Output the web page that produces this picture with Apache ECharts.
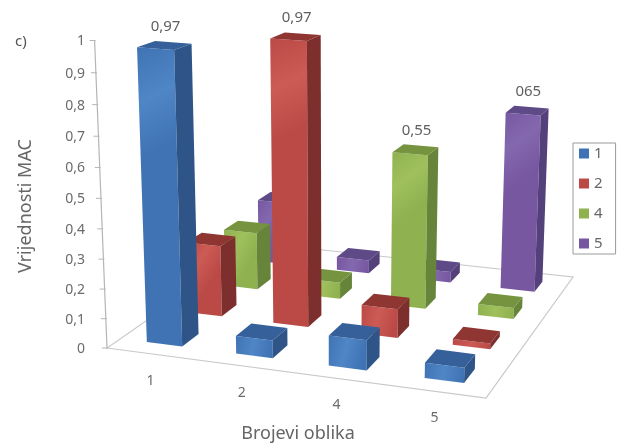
<!DOCTYPE html>
<html>
<head>
<meta charset="utf-8">
<style>html,body{margin:0;padding:0;background:#fff}#c{width:620px;height:443px}</style>
<script src="https://cdn.jsdelivr.net/npm/echarts@6/dist/echarts.min.js"></script>
</head>
<body>
<div id="c"></div>
<script>
// Bar heights, one array per series, ordered by shape number on the horizontal axis
const categories = ['1', '2', '4', '5'];
const seriesNames = ['1', '2', '4', '5'];
const values1 = [0.97, 0.06, 0.10, 0.05];
const values2 = [0.25, 0.97, 0.10, 0.02];
const values4 = [0.21, 0.06, 0.55, 0.04];
const values5 = [0.24, 0.05, 0.04, 0.65];
const valueLabels1 = ['0,97', '', '', ''];
const valueLabels2 = ['', '0,97', '', ''];
const valueLabels4 = ['', '', '0,55', ''];
const valueLabels5 = ['', '', '', '065'];
const yTicks = [0, 0.1, 0.2, 0.3, 0.4, 0.5, 0.6, 0.7, 0.8, 0.9, 1];

// Colours for the front, side and top faces of each series
const frontFaces = [['#3f73b4', '#4f86c6'], ['#bb4a46', '#cc5a55'], ['#8fb150', '#9fc05c'], ['#7657a0', '#8468ae']];
const sideFaces = ['#2f5588', '#7d2f2d', '#66843a', '#54407a'];
const topFaces = ['#35609a', '#8f3633', '#76943f', '#5e4a86'];

// Perspective camera: floor corners plus the vertical vanishing point
const floorQuad = [[107, 348], [486, 398], [573, 277], [258, 243]];
const axisTop = [95, 40.5];
const verticalVanish = [335, 6000];

function buildCamera() {
  const [[x0, y0], [x1, y1], [x2, y2], [x3, y3]] = floorQuad;
  const dx1 = x1 - x2, dx2 = x3 - x2, sx = x0 - x1 + x2 - x3;
  const dy1 = y1 - y2, dy2 = y3 - y2, sy = y0 - y1 + y2 - y3;
  const den = dx1 * dy2 - dx2 * dy1;
  const g = (sx * dy2 - dx2 * sy) / den;
  const h = (dx1 * sy - sx * dy1) / den;
  const r = (y0 - axisTop[1]) / (axisTop[1] - verticalVanish[1]);
  return {
    a: x1 - x0 + g * x1, b: x3 - x0 + h * x3, c: x0,
    d: y1 - y0 + g * y1, e: y3 - y0 + h * y3, f: y0,
    g, h, r, p: r * verticalVanish[0], q: r * verticalVanish[1]
  };
}
const cam = buildCamera();

// u runs along the categories, v into the depth, t up the value axis
function project(u, v, t) {
  const w = cam.g * u + cam.h * v + 1 + cam.r * t;
  return [
    (cam.a * u + cam.b * v + cam.c + cam.p * t) / w,
    (cam.d * u + cam.e * v + cam.f + cam.q * t) / w
  ];
}

const BAR_SHARE = 0.4;
const GRID = { left: 100, top: 40, width: 400, height: 300 };

function gridFractions(api, params, category, value) {
  const sys = params.coordSys;
  const pt = api.coord([category, value]);
  return { u: (pt[0] - sys.x) / sys.width, t: (sys.y + sys.height - pt[1]) / sys.height };
}

function barRenderer(seriesIndex, labels) {
  return function (params, api) {
    const category = api.value(0);
    const value = api.value(1);
    const pos = gridFractions(api, params, category, value);
    const halfU = (api.size([1, 0])[0] / params.coordSys.width) * BAR_SHARE / 2;
    const depthCell = 1 / seriesNames.length;
    const vMid = (seriesIndex + 0.5) * depthCell;
    const halfV = depthCell * BAR_SHARE / 2;
    const u0 = pos.u - halfU, u1 = pos.u + halfU;
    const v0 = vMid - halfV, v1 = vMid + halfV;
    const t = pos.t;

    const fb0 = project(u0, v0, 0), fb1 = project(u1, v0, 0);
    const ft0 = project(u0, v0, t), ft1 = project(u1, v0, t);
    const bb1 = project(u1, v1, 0), bt1 = project(u1, v1, t), bt0 = project(u0, v1, t);

    const children = [
      { type: 'polygon', shape: { points: [fb0, fb1, ft1, ft0] },
        style: { fill: new echarts.graphic.LinearGradient(0, 0, 1, 0.3, [
          { offset: 0, color: frontFaces[seriesIndex][0] },
          { offset: 0.5, color: frontFaces[seriesIndex][1] },
          { offset: 1, color: frontFaces[seriesIndex][0] }
        ]) } },
      { type: 'polygon', shape: { points: [fb1, bb1, bt1, ft1] }, style: { fill: sideFaces[seriesIndex] } },
      { type: 'polygon', shape: { points: [ft0, ft1, bt1, bt0] }, style: { fill: topFaces[seriesIndex] } }
    ];
    const label = labels[params.dataIndex];
    if (label) {
      const anchor = project(pos.u, vMid, t);
      children.push({
        type: 'text',
        style: {
          x: anchor[0] + 1, y: anchor[1] - 19, text: label,
          fill: '#5f5f5f', font: '15px "Noto Sans"', align: 'center', verticalAlign: 'middle'
        }
      });
    }
    return { type: 'group', children };
  };
}

// Floor outline, slanted value axis and tick labels
function frameRenderer(params, api) {
  const children = [
    { type: 'polygon', shape: { points: floorQuad }, style: { fill: '#fff', stroke: '#c9c9c9', lineWidth: 1.2 } },
    { type: 'line', shape: { x1: project(0, 0, 0)[0], y1: project(0, 0, 0)[1], x2: project(0, 0, 1)[0], y2: project(0, 0, 1)[1] },
      style: { stroke: '#b5b5b5', lineWidth: 1.2 } }
  ];
  yTicks.forEach(function (tick) {
    const pos = gridFractions(api, params, 0, tick);
    const p = project(0, 0, pos.t);
    children.push({ type: 'line', shape: { x1: p[0] - 5, y1: p[1], x2: p[0] + 1, y2: p[1] }, style: { stroke: '#b5b5b5', lineWidth: 1 } });
    children.push({
      type: 'text',
      style: {
        x: 85, y: p[1] + 1, text: String(tick).replace('.', ','),
        fill: '#6b6b6b', font: '14px "Noto Sans"', align: 'right', verticalAlign: 'middle'
      }
    });
  });
  categories.forEach(function (name, i) {
    const pos = gridFractions(api, params, i, 0);
    const p = project(pos.u, 0, 0);
    children.push({
      type: 'text',
      style: {
        x: p[0] - 1, y: p[1] + 27, text: name,
        fill: '#6b6b6b', font: '14px "Noto Sans"', align: 'center', verticalAlign: 'middle'
      }
    });
  });
  return { type: 'group', children };
}

const seriesValues = [values1, values2, values4, values5];
const seriesLabels = [valueLabels1, valueLabels2, valueLabels4, valueLabels5];

const chart = echarts.init(document.getElementById('c'), null, { renderer: 'canvas' });
chart.setOption({
  animation: false,
  backgroundColor: '#fff',
  title: [
    { text: 'c)', left: 10, top: 29, textStyle: { color: '#555', fontSize: 15, fontWeight: 'normal', fontFamily: 'Noto Sans' } }
  ],
  graphic: [
    { type: 'text', x: 298, y: 434, style: { text: 'Brojevi oblika', fill: '#666', font: '18px "Noto Sans"', align: 'center', verticalAlign: 'middle' } },
    { type: 'text', x: 26, y: 206, rotation: Math.PI / 2, style: { text: 'Vrijednosti MAC', fill: '#666', font: '18px "Noto Sans"', align: 'center', verticalAlign: 'middle' } }
  ],
  legend: {
    data: seriesNames,
    orient: 'vertical',
    left: 573, top: 143,
    itemWidth: 10, itemHeight: 10, itemGap: 15,
    padding: [3, 13, 3, 6],
    borderColor: '#9a9a9a', borderWidth: 1,
    icon: 'rect',
    selectedMode: false,
    textStyle: { color: '#666', fontSize: 15, fontFamily: 'Noto Sans' }
  },
  grid: GRID,
  xAxis: { type: 'category', data: categories, show: false },
  yAxis: { type: 'value', min: 0, max: 1, show: false },
  series: [
    { type: 'custom', name: 'frame', z: 0, silent: true, coordinateSystem: 'cartesian2d',
      data: [[0, 0]], renderItem: frameRenderer, clip: false }
  ].concat(seriesNames.map(function (name, i) {
    return {
      type: 'custom', name, z: 10 - i, coordinateSystem: 'cartesian2d', clip: false,
      itemStyle: { color: frontFaces[i][0] },
      encode: { x: 0, y: 1 },
      data: seriesValues[i].map(function (v, k) { return [k, v]; }),
      renderItem: barRenderer(i, seriesLabels[i])
    };
  }))
});
</script>
</body>
</html>
